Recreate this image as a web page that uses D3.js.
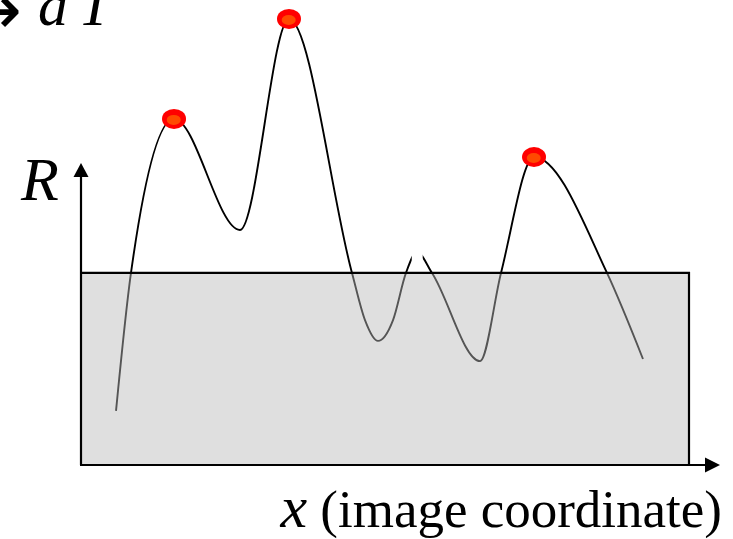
<!DOCTYPE html>
<html>
<head>
<meta charset="utf-8">
<script src="https://cdn.jsdelivr.net/npm/d3@7"></script>
<style>
  html, body { margin: 0; padding: 0; background: #fff; }
  svg { display: block; }
  text { font-family: "Liberation Serif", "Times New Roman", serif; fill: #000; }
</style>
</head>
<body>
<svg id="chart" width="733" height="539"></svg>
<script>
// ---- data (x: image coordinate, R: response) ----
const curveX = [5.76, 8.22, 15.3, 26.15, 34.21, 44.57, 46.71, 48.85, 51.32, 53.45, 55.26, 57.73, 65.63, 69.08, 74.51, 86.51, 92.43];
const curveR = [17.9, 63.6, 114.6, 77.8, 147.7, 63.6, 48.0, 41.1, 48.0, 63.6, 70.5, 63.6, 34.4, 63.6, 102.0, 63.6, 35.1];
const peakX = [15.3, 34.21, 74.51];
const peakR = [114.6, 147.7, 102.0];
const threshold = 63.6;
const gapX = [54.4, 56.2];   // break in the drawn curve
const xLabel = "(image coordinate)";
const xVar = "x";
const yVar = "R";
const topText = ["→", "d", "T"];

// ---- scales ----
const svg = d3.select("#chart");
const x = d3.scaleLinear().domain([0, 100]).range([81, 689]);
const y = d3.scaleLinear().domain([0, 100]).range([465, 163]);
const xAxisEnd = 720;

const pts = curveX.map((v, i) => [v, curveR[i]]);
const line = d3.line().x(d => x(d[0])).y(d => y(d[1])).curve(d3.curveMonotoneX);

const defs = svg.append("defs");
const clip = defs.append("clipPath").attr("id", "gapclip");
clip.append("rect").attr("x", 0).attr("y", 0).attr("width", x(gapX[0])).attr("height", 539);
clip.append("rect").attr("x", x(gapX[1])).attr("y", 0).attr("width", 733 - x(gapX[1])).attr("height", 539);

// curve
svg.append("path")
  .attr("d", line(pts))
  .attr("fill", "none")
  .attr("stroke", "#000")
  .attr("stroke-width", 1.9)
  .attr("clip-path", "url(#gapclip)");

// threshold region (semi-transparent grey over the curve)
svg.append("rect")
  .attr("x", x(0)).attr("y", y(threshold))
  .attr("width", x(100) - x(0)).attr("height", y(0) - y(threshold))
  .attr("fill", "rgb(185,185,185)").attr("fill-opacity", 0.46)
  .attr("stroke", "none");
svg.append("path")
  .attr("d", `M${x(0)},${y(threshold)}H${x(100)}V${y(0)}`)
  .attr("fill", "none").attr("stroke", "#000").attr("stroke-width", 2.2);

// axes
svg.append("line").attr("x1", x(0)).attr("y1", y(0)).attr("x2", x(0)).attr("y2", y(100) + 12)
  .attr("stroke", "#000").attr("stroke-width", 2.2);
svg.append("path")
  .attr("d", `M${x(0)},${y(100)}L${x(0) - 7.5},${y(100) + 14}L${x(0) + 7.5},${y(100) + 14}Z`)
  .attr("fill", "#000");
svg.append("line").attr("x1", x(0) - 1).attr("y1", y(0)).attr("x2", xAxisEnd - 12).attr("y2", y(0))
  .attr("stroke", "#000").attr("stroke-width", 2.2);
svg.append("path")
  .attr("d", `M${xAxisEnd},${y(0)}L${xAxisEnd - 15},${y(0) - 7.5}L${xAxisEnd - 15},${y(0) + 7.5}Z`)
  .attr("fill", "#000");

// peak markers
const g = svg.append("g");
peakX.forEach((px, i) => {
  const cx = x(px), cy = y(peakR[i]);
  g.append("ellipse").attr("cx", cx).attr("cy", cy).attr("rx", 12).attr("ry", 10).attr("fill", "#ff0000");
  g.append("ellipse").attr("cx", cx - 0.3).attr("cy", cy + 1).attr("rx", 7).attr("ry", 5).attr("fill", "#ff4a00");
});

// labels
svg.append("text").attr("x", 21).attr("y", 200)
  .attr("font-size", 62).attr("font-style", "italic").text(yVar);

const xl = svg.append("text").attr("x", 722).attr("y", 527).attr("text-anchor", "end").attr("font-size", 53);
xl.append("tspan").attr("font-style", "italic").attr("font-size", 60).text(xVar);
xl.append("tspan").text(" " + xLabel);

svg.append("text").attr("x", 22).attr("y", 34).attr("text-anchor", "end")
  .attr("font-size", 70).style("font-family", "'DejaVu Sans', sans-serif").text(topText[0]);
svg.append("text").attr("x", 38).attr("y", 25).attr("font-size", 60).attr("font-style", "italic").text(topText[1]);
svg.append("text").attr("x", 78).attr("y", 25).attr("font-size", 60).attr("font-style", "italic").text(topText[2]);
</script>
</body>
</html>
